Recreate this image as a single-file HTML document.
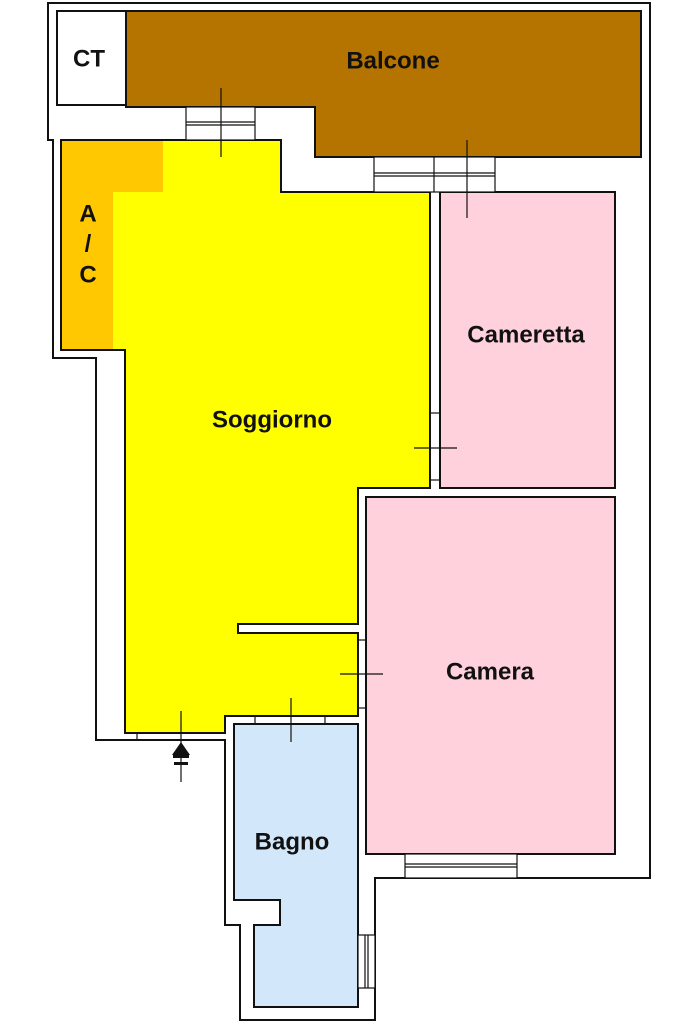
<!DOCTYPE html>
<html><head><meta charset="utf-8"><style>
html,body{margin:0;padding:0;background:#fff;}
svg{display:block}
text{font-family:"Liberation Sans",Arial,sans-serif;font-weight:bold;font-size:24px;fill:#111;text-anchor:middle;dominant-baseline:middle}
</style></head><body>
<svg width="683" height="1024" viewBox="0 0 683 1024" xmlns="http://www.w3.org/2000/svg">
<g stroke="#111" stroke-width="2" fill="none">
<polygon fill="#fff" points="48,3 650,3 650,878 375,878 375,1020 240,1020 240,925 225,925 225,740 137,740 96,740 96,358 53,358 53,140 48,140"/>
<rect x="57" y="11" width="69" height="94" fill="#fff"/>
<polygon fill="#b57300" points="126,11 641,11 641,157 315,157 315,107 126,107"/>
<polygon fill="#ffff00" stroke="none" points="61,140 281,140 281,192 430,192 430,488 358,488 358,624 238,624 238,633 358,633 358,716 225,716 225,733 125,733 125,350 61,350"/>
<polygon fill="#ffc800" stroke="none" points="61,140 163,140 163,192 113,192 113,350 61,350"/>
<polygon points="61,140 281,140 281,192 430,192 430,488 358,488 358,624 238,624 238,633 358,633 358,716 225,716 225,733 125,733 125,350 61,350"/>
<rect x="440" y="192" width="175" height="296" fill="#ffd1dc"/>
<rect x="366" y="497" width="249" height="357" fill="#ffd1dc"/>
<polygon fill="#d3e7fb" points="234,724 358,724 358,1007 254,1007 254,925 280,925 280,900 234,900"/>
</g>
<g stroke="#111" stroke-width="1.2" fill="none">
<rect x="186" y="107" width="69" height="33" fill="#fff"/>
<line x1="186" y1="122" x2="255" y2="122"/><line x1="186" y1="125" x2="255" y2="125"/>
<rect x="374" y="157" width="121" height="35" fill="#fff"/>
<line x1="434" y1="157" x2="434" y2="192"/>
<line x1="374" y1="173" x2="495" y2="173"/><line x1="374" y1="176" x2="495" y2="176"/>
<rect x="405" y="854" width="112" height="24" fill="#fff"/>
<line x1="405" y1="864" x2="517" y2="864"/><line x1="405" y1="867" x2="517" y2="867"/>
<rect x="358" y="935" width="17" height="53" fill="#fff"/>
<line x1="365" y1="935" x2="365" y2="988"/><line x1="368" y1="935" x2="368" y2="988"/>
<line x1="255" y1="716" x2="255" y2="724"/><line x1="325" y1="716" x2="325" y2="724"/>
<line x1="137" y1="733" x2="137" y2="740"/>
<line x1="221" y1="88" x2="221" y2="157"/>
<line x1="467" y1="140" x2="467" y2="218"/>
<line x1="414" y1="448" x2="457" y2="448"/>
<line x1="340" y1="674" x2="383" y2="674"/>
<line x1="291" y1="698" x2="291" y2="742"/>
<line x1="181" y1="711" x2="181" y2="782"/>
<line x1="430" y1="413" x2="440" y2="413"/><line x1="430" y1="480" x2="440" y2="480"/>
<line x1="358" y1="640" x2="366" y2="640"/><line x1="358" y1="708" x2="366" y2="708"/>
</g>
<polygon points="181,742 172,755 190,755" fill="#111"/>
<rect x="173" y="755" width="16" height="3" fill="#111"/>
<rect x="174" y="762" width="14" height="3" fill="#111"/>
<text x="89" y="60">CT</text>
<text x="393" y="62">Balcone</text>
<text x="88" y="215">A</text>
<text x="88" y="245">/</text>
<text x="88" y="276">C</text>
<text x="272" y="421">Soggiorno</text>
<text x="526" y="336">Cameretta</text>
<text x="490" y="673">Camera</text>
<text x="292" y="843">Bagno</text>
</svg>
</body></html>
